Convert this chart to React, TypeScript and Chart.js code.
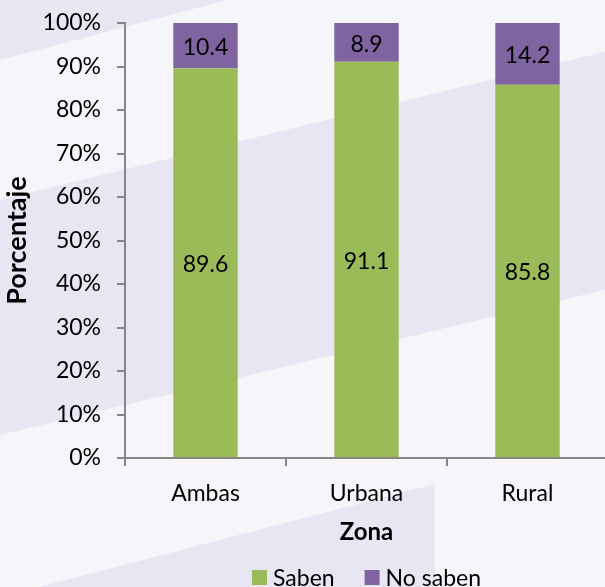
import React, { useEffect, useRef } from "react";
import { Chart, registerables } from "chart.js";

Chart.register(...registerables);

const categories = ["Ambas", "Urbana", "Rural"];
const sabenValues = [89.6, 91.1, 85.8];
const noSabenValues = [10.4, 8.9, 14.2];
const seriesNames = ["Saben", "No saben"];
const seriesColors = ["#9BBB59", "#8064A2"];
const yTitle = "Porcentaje";
const xTitle = "Zona";

const FONT = "Lato";
const AXIS = "#868686";

const backgroundPlugin = {
  id: "bgBands",
  beforeDraw(chart: any) {
    const { ctx, width, height } = chart;
    ctx.save();
    ctx.fillStyle = "#F5F5FA";
    ctx.fillRect(0, 0, width, height);
    ctx.fillStyle = "#E8E6F2";
    const poly = (pts: number[][]) => {
      ctx.beginPath();
      ctx.moveTo(pts[0][0], pts[0][1]);
      for (let i = 1; i < pts.length; i++) ctx.lineTo(pts[i][0], pts[i][1]);
      ctx.closePath();
      ctx.fill();
    };
    poly([[0, 0], [227, 0], [0, 60]]);
    poly([[0, 200], [width, 200 - 0.245 * width], [width, 435 - 0.24 * width], [0, 435]]);
    poly([[39, height], [435, 484], [435, height]]);
    ctx.restore();
  },
};

const valueLabelPlugin = {
  id: "valueLabels",
  afterDatasetsDraw(chart: any) {
    const { ctx } = chart;
    ctx.save();
    ctx.font = `23px ${FONT}`;
    ctx.fillStyle = "#000";
    ctx.textAlign = "center";
    ctx.textBaseline = "middle";
    chart.data.datasets.forEach((ds: any, i: number) => {
      const meta = chart.getDatasetMeta(i);
      meta.data.forEach((el: any, j: number) => {
        const p = el.getProps(["x", "y", "base"], true);
        ctx.fillText(ds.data[j].toFixed(1), p.x, (p.y + p.base) / 2 + 2);
      });
    });
    ctx.restore();
  },
};

const legendPlugin = {
  id: "customLegend",
  afterDraw(chart: any) {
    const { ctx, chartArea, height } = chart;
    ctx.save();
    ctx.font = `23px ${FONT}`;
    ctx.textBaseline = "middle";
    ctx.textAlign = "left";
    const box = 15;
    const gap = 6;
    const between = 30;
    const items = chart.data.datasets.map((ds: any) => ({
      label: ds.label,
      color: ds.backgroundColor,
      w: ctx.measureText(ds.label).width,
    }));
    const total =
      items.reduce((s: number, it: any) => s + box + gap + it.w, 0) + between * (items.length - 1);
    let x = (chartArea.left + chartArea.right) / 2 - total / 2;
    const cy = height - 9.5;
    items.forEach((it: any) => {
      ctx.fillStyle = it.color;
      ctx.fillRect(x, cy - box / 2, box, box);
      ctx.fillStyle = "#000";
      ctx.fillText(it.label, x + box + gap, cy + 1);
      x += box + gap + it.w + between;
    });
    ctx.restore();
  },
};

export default function App() {
  const ref = useRef<HTMLCanvasElement | null>(null);
  useEffect(() => {
    if (!ref.current) return;
    const chart = new Chart(ref.current, {
      type: "bar",
      data: {
        labels: categories,
        datasets: [
          {
            label: seriesNames[0],
            data: sabenValues,
            backgroundColor: seriesColors[0],
            borderWidth: 0,
            barPercentage: 0.4,
            categoryPercentage: 1,
          },
          {
            label: seriesNames[1],
            data: noSabenValues,
            backgroundColor: seriesColors[1],
            borderWidth: 0,
            barPercentage: 0.4,
            categoryPercentage: 1,
          },
        ],
      },
      options: {
        animation: false,
        responsive: false,
        layout: { padding: { top: 23, right: 2, bottom: 0, left: 0 } },
        plugins: {
          legend: { display: false },
          tooltip: { enabled: false },
        },
        scales: {
          x: {
            stacked: true,
            border: { color: AXIS, width: 2 },
            grid: {
              drawOnChartArea: false,
              drawTicks: true,
              tickLength: 8,
              color: AXIS,
              lineWidth: 2,
              offset: true,
            },
            ticks: {
              color: "#000",
              font: { family: FONT, size: 23 },
              padding: 14,
              maxRotation: 0,
            },
            title: {
              display: true,
              text: xTitle,
              color: "#000",
              font: { family: FONT, size: 24, weight: "bold" },
              padding: { top: 0, bottom: 40 },
            },
            afterFit: (s: any) => {
              s.height = 129;
              s.paddingLeft = 0;
              s.paddingRight = 0;
            },
          },
          y: {
            stacked: true,
            min: 0,
            max: 100,
            border: { color: AXIS, width: 2 },
            grid: {
              drawOnChartArea: false,
              drawTicks: true,
              tickLength: 8,
              color: AXIS,
              lineWidth: 2,
            },
            ticks: {
              stepSize: 10,
              color: "#000",
              font: { family: FONT, size: 23 },
              padding: 16,
              callback: (v: any) => `${v}%`,
            },
            title: {
              display: true,
              text: yTitle,
              color: "#000",
              font: { family: FONT, size: 27, weight: "bold" },
              padding: { top: 1, bottom: 0 },
            },
            afterFit: (s: any) => {
              s.width = 125;
              s.paddingTop = 0;
              s.paddingBottom = 0;
            },
          },
        },
      },
      plugins: [backgroundPlugin, valueLabelPlugin, legendPlugin],
    });
    return () => chart.destroy();
  }, []);
  return (
    <div
      style={{
        position: "fixed",
        left: 0,
        top: 0,
        width: 605,
        height: 587,
        overflow: "hidden",
      }}
    >
      <canvas ref={ref} width={610} height={587} style={{ display: "block" }} />
    </div>
  );
}
